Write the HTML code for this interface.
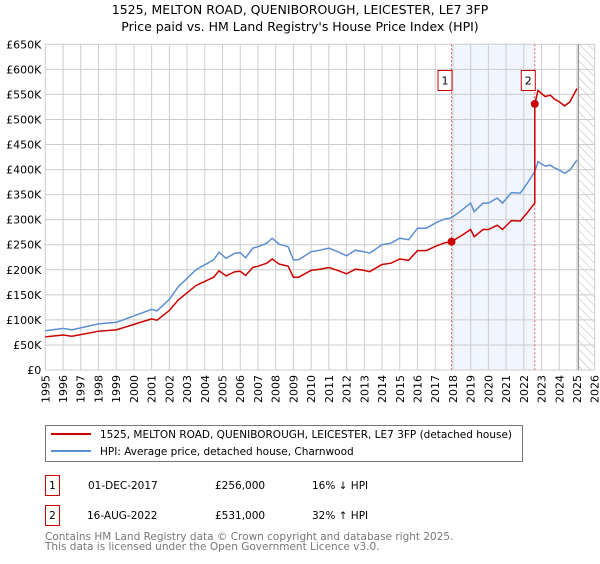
<!DOCTYPE html>
<html><head><meta charset="utf-8"><style>
body{margin:0;background:#fff;font-family:"DejaVu Sans","Liberation Sans",sans-serif;}
svg text{font-family:"DejaVu Sans","Liberation Sans",sans-serif;}
</style></head><body>
<svg id="c" width="600" height="560" viewBox="0 0 600 560" xmlns="http://www.w3.org/2000/svg">
<defs><pattern id="hatch" width="6" height="6" patternUnits="userSpaceOnUse" patternTransform="rotate(-45)"><line x1="0" y1="0" x2="0" y2="6" stroke="#bbb" stroke-width="1"/></pattern></defs>
<text x="300" y="14" text-anchor="middle" font-size="12.5">1525, MELTON ROAD, QUENIBOROUGH, LEICESTER, LE7 3FP</text>
<text x="300" y="31" text-anchor="middle" font-size="12.5">Price paid vs. HM Land Registry's House Price Index (HPI)</text>
<g id="plot"></g>
<rect x="45.5" y="425.5" width="477" height="36" fill="#fff" stroke="#777"/>
<line x1="51" y1="434" x2="91" y2="434" stroke="#cc0000" stroke-width="2"/>
<text x="100" y="438" font-size="10.5">1525, MELTON ROAD, QUENIBOROUGH, LEICESTER, LE7 3FP (detached house)</text>
<line x1="51" y1="451" x2="91" y2="451" stroke="#5b8fd0" stroke-width="2"/>
<text x="100" y="455" font-size="10.5">HPI: Average price, detached house, Charnwood</text>
<g font-size="10.5">
<rect x="45.5" y="475.5" width="14" height="20" fill="#fff" stroke="#cc0000"/><text x="52.5" y="489" text-anchor="middle">1</text>
<text x="88" y="489">01-DEC-2017</text><text x="215" y="489">£256,000</text><text x="312" y="489">16% ↓ HPI</text></g>
<g font-size="10.5">
<rect x="45.5" y="505.5" width="14" height="20" fill="#fff" stroke="#cc0000"/><text x="52.5" y="519" text-anchor="middle">2</text>
<text x="87" y="519">16-AUG-2022</text><text x="215" y="519">£531,000</text><text x="312" y="519">32% ↑ HPI</text></g>
<text x="45" y="540" font-size="10.5" fill="#777">Contains HM Land Registry data © Crown copyright and database right 2025.</text>
<text x="45" y="550" font-size="10.5" fill="#777">This data is licensed under the Open Government Licence v3.0.</text>
</svg>
<script>
const yTicks=[0,50,100,150,200,250,300,350,400,450,500,550,600,650];
const yTickLabels=["£0","£50K","£100K","£150K","£200K","£250K","£300K","£350K","£400K","£450K","£500K","£550K","£600K","£650K"];
const years=[1995,1996,1997,1998,1999,2000,2001,2002,2003,2004,2005,2006,2007,2008,2009,2010,2011,2012,2013,2014,2015,2016,2017,2018,2019,2020,2021,2022,2023,2024,2025,2026];
const hpiT=[1995,1996,1996.5,1997,1998,1999,2000,2001,2001.3,2002,2002.5,2003,2003.5,2004,2004.5,2004.8,2005.2,2005.7,2006,2006.3,2006.7,2007,2007.5,2007.8,2008.2,2008.7,2009,2009.3,2010,2010.5,2011,2011.5,2012,2012.5,2013,2013.3,2014,2014.5,2015,2015.5,2016,2016.5,2017,2017.5,2017.92,2018.5,2019,2019.2,2019.7,2020,2020.5,2020.8,2021.3,2021.8,2022.2,2022.62,2022.8,2023.2,2023.5,2023.7,2024,2024.3,2024.6,2025];
const hpiV=[78.5,83,80,84,92,95,108,121,118,141,166,183,200,210,220,235,223,233,234,224,243,246,253,263,251,246,220,220,236,239,243,236,228,239,236,233,250,253,263,260,283,283,293,301,304,319,333,316,333,333,343,333,354,353,373,396,416,407,409,404,399,393,399,419];
const saleT=[2017.92,2022.62];
const saleV=[256,531];
const x0=45.3,x1=594.7,yr0=1995,yr1=2026,yb=370,yt=44.3;
const X=t=>x0+(t-yr0)*(x1-x0)/(yr1-yr0);
const Y=v=>yb-v*(yb-yt)/650;
const NS="http://www.w3.org/2000/svg";
const g=document.getElementById('plot');
function mk(tag,attrs,parent){const e=document.createElementNS(NS,tag);for(const k in attrs)e.setAttribute(k,attrs[k]);(parent||g).appendChild(e);return e;}
function hpiAt(t){for(let i=1;i<hpiT.length;i++){if(t<=hpiT[i]){const f=(t-hpiT[i-1])/(hpiT[i]-hpiT[i-1]);return hpiV[i-1]+f*(hpiV[i]-hpiV[i-1]);}}return hpiV[hpiV.length-1];}
let sh=mk('rect',{x:X(saleT[0]),y:yt,width:X(saleT[1])-X(saleT[0]),height:yb-yt,fill:'#eef3fc',opacity:0.8});


let ht=mk('rect',{x:X(2025.08),y:yt,width:x1-X(2025.08),height:yb-yt,fill:'url(#hatch)'});


years.forEach(y=>{const l=mk('line',{x1:X(y),x2:X(y),y1:yt,y2:yb,stroke:'#cccccc'});


const tx=X(y)+4,ty=yb+5;
const t=mk('text',{x:tx,y:ty,'font-size':11,'text-anchor':'end',transform:'rotate(-90 '+tx+' '+ty+')'});t.textContent=y;

});
yTicks.forEach((v,i)=>{const l=mk('line',{x1:x0,x2:x1,y1:Y(v),y2:Y(v),stroke:'#cccccc'});


const t=mk('text',{x:x0-4,y:Y(v)+4,'font-size':11,'text-anchor':'end'});t.textContent=yTickLabels[i];

});
mk('line',{x1:X(2025.08),x2:X(2025.08),y1:yt,y2:yb,stroke:'#888','stroke-width':1});
saleT.forEach((t,i)=>{const l=mk('line',{x1:X(t),x2:X(t),y1:yt,y2:yb,stroke:'#e06060','stroke-dasharray':'2,2','stroke-width':1});


const r=mk('rect',{x:X(t)-13.5,y:70.5,width:14,height:20,fill:'#fff',stroke:'#cc0000'});


const tx=mk('text',{x:X(t)-6.5,y:84.5,'font-size':11,'text-anchor':'middle'});tx.textContent=i+1;

});
const hp=hpiT.map((t,i)=>X(t).toFixed(1)+','+Y(hpiV[i]).toFixed(1)).join(' ');
const hl=mk('polyline',{points:hp,fill:'none',stroke:'#5b8fd0','stroke-width':1.5});


const rp=[];
hpiT.forEach((t,i)=>{let k;if(t<saleT[1]){k=saleV[0]/hpiAt(saleT[0]);}else{k=saleV[1]/hpiAt(saleT[1]);}
if(t>=saleT[1]&&rp.length&&hpiT[i-1]<saleT[1]){const kk=saleV[0]/hpiAt(saleT[0]);rp.push([X(saleT[1]),Y(hpiAt(saleT[1])*kk)]);rp.push([X(saleT[1]),Y(saleV[1])]);}
rp.push([X(t),Y(hpiV[i]*k)]);});
const pl=mk('polyline',{points:rp.map(p=>p[0].toFixed(1)+','+p[1].toFixed(1)).join(' '),fill:'none',stroke:'#cc0000','stroke-width':1.5});


saleT.forEach((t,i)=>{const c=mk('circle',{cx:X(t),cy:Y(saleV[i]),r:4,fill:'#cc0000'});

});
</script>
</body></html>
